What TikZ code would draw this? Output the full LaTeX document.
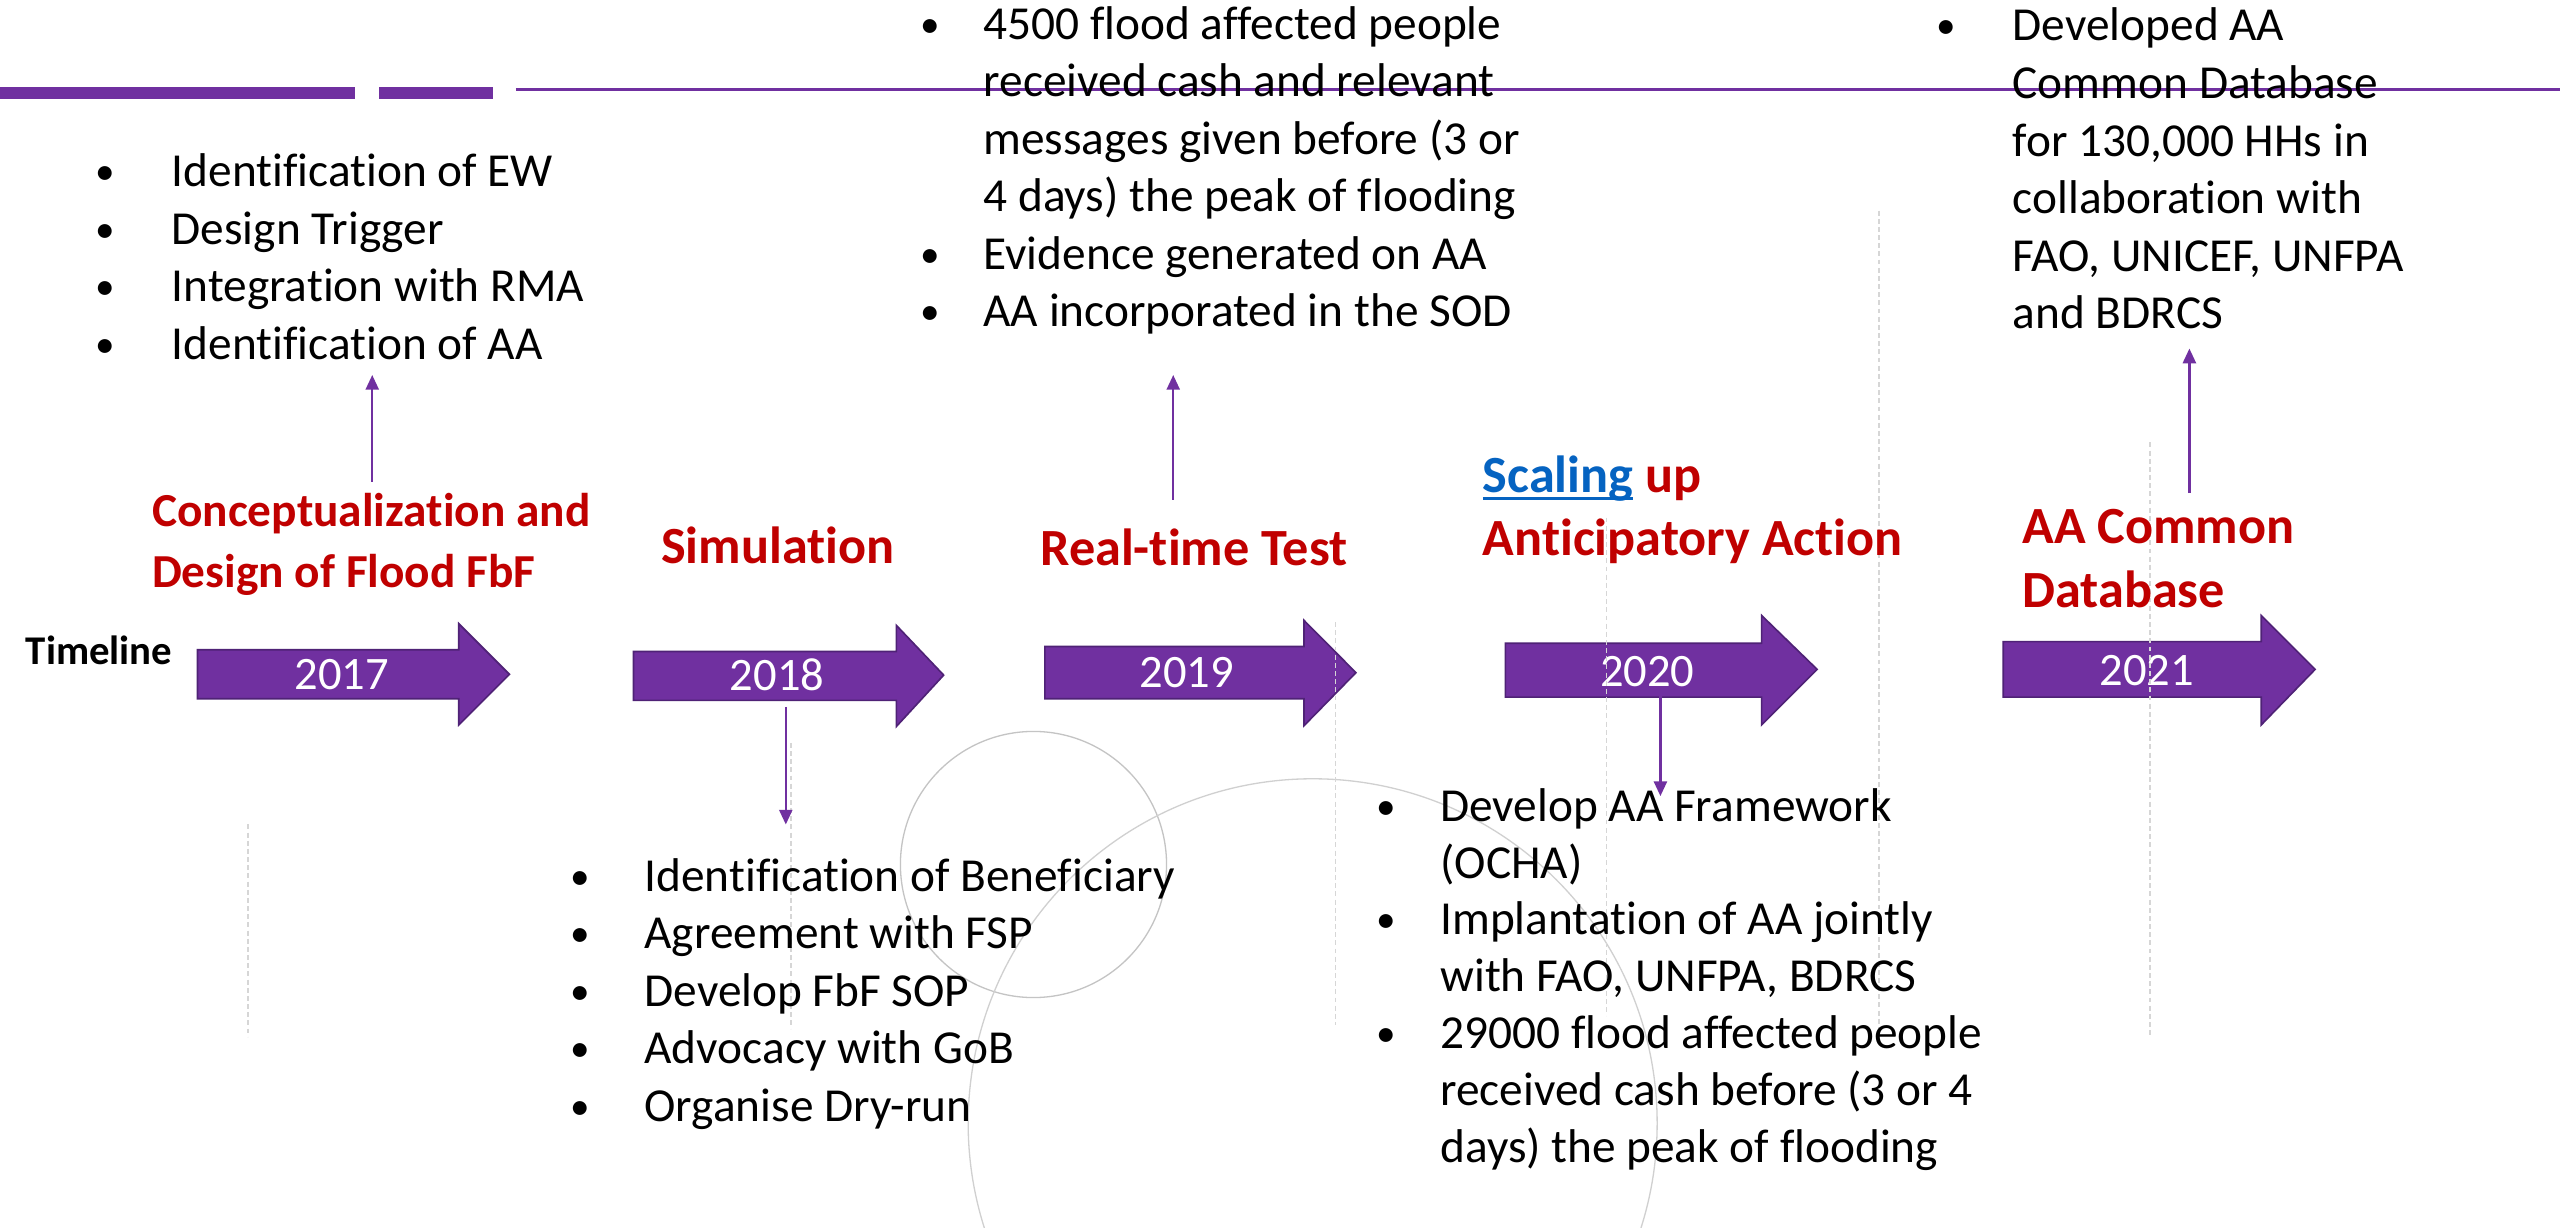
\documentclass[tikz,border=0pt]{standalone}
\usepackage{fontspec}
\setmainfont{Carlito}[Ligatures={NoCommon,NoRare,NoContextual}]
\usetikzlibrary{arrows.meta}

\definecolor{tlpurple}{HTML}{7030A0}
\definecolor{tledge}{HTML}{4F2276}
\definecolor{tlred}{HTML}{C00000}
\definecolor{tlblue}{HTML}{0563C1}
\definecolor{guide}{HTML}{D6D6D6}
\definecolor{ringgray}{HTML}{C4C4C4}

% stacked lines whose baseline is the first line's baseline
\newcommand\stack[2]{\vtop{\baselineskip=#1\lineskiplimit=-100pt\lineskip=0pt #2}}
% bullet glyph, slightly smaller than the running text
\newcommand\dotmark{\raisebox{1.2pt}{\fontsize{24}{24}\selectfont\textbullet}}
% bullet line and continuation line with hanging indent #1
\newcommand\bitem[2]{\hbox{\makebox[#1][l]{\makebox[0pt]{\dotmark}}#2}}
\newcommand\bcont[2]{\hbox{\hspace*{#1}#2}}
\newcommand\ultext[1]{\setbox0=\hbox{#1}\rlap{\rule[-4.6pt]{\wd0}{1.8pt}}\box0}

\tikzset{
  bodytext/.style={inner sep=0pt, anchor=base west, text=black,
    font=\fontsize{29}{35.2}\selectfont},
  phase/.style={inner sep=0pt, anchor=base west, text=tlred,
    font=\fontsize{32}{39}\selectfont\bfseries},
  yearlabel/.style={inner sep=0pt, anchor=base, text=white,
    font=\fontsize{28.5}{34}\selectfont},
  yearshape/.style={fill=tlpurple, draw=tledge, line width=1pt, line join=miter},
  link/.style={draw=tlpurple, line width=1.4pt,
    -{Triangle[length=9pt,width=8pt]}},
  guideline/.style={draw=guide, line width=0.9pt, dash pattern=on 3pt off 2pt},
  ring/.style={draw=ringgray, line width=0.8pt}
}

\begin{document}
\begin{tikzpicture}[x=1pt,y=-1pt]
\useasboundingbox (0,0) rectangle (1568,752);
\clip (0,0) rectangle (1568,752);
\fill[white] (0,0) rectangle (1568,752);

% decorative rings
\draw[ring] (633,529.5) circle[radius=81.5pt];
\draw[ring, draw=ringgray!80] (804,688) circle[radius=211pt];

% header rule
\fill[tlpurple] (0,53.1) rectangle (217.5,60.6);
\fill[tlpurple] (232,53.1) rectangle (302,60.6);
\draw[tlpurple, line width=1.3pt] (316,54.8) -- (1568,54.8);

% year arrows
\draw[yearshape] (121,398) -- (281,398) -- (281,382) -- (312,413) -- (281,444) -- (281,428) -- (121,428) -- cycle;
\draw[yearshape] (388,399) -- (549,399) -- (549,383) -- (578,413.5) -- (549,445) -- (549,429) -- (388,429) -- cycle;
\draw[yearshape] (640,396) -- (798.7,396) -- (798.7,380) -- (830.5,412) -- (798.7,444.5) -- (798.7,428) -- (640,428) -- cycle;
\draw[yearshape] (922,394) -- (1079,394) -- (1079,377) -- (1113,410) -- (1079,444) -- (1079,427) -- (922,427) -- cycle;
\draw[yearshape] (1227,393) -- (1385,393) -- (1385,377) -- (1418,410) -- (1385,444) -- (1385,427) -- (1227,427) -- cycle;

\node[yearlabel] (y2017) at (209.4,422.6) {2017};
\node[yearlabel] (y2018) at (476,423) {2018};
\node[yearlabel] (y2019) at (727,421) {2019};
\node[yearlabel] (y2020) at (1009,420.6) {2020};
\node[yearlabel] (y2021) at (1315,419.6) {2021};

% faint guides
\draw[guideline] (152,505) -- (152,635);
\draw[guideline] (484.5,455) -- (484.5,630);
\draw[guideline] (818,381) -- (818,628);
\draw[guideline] (984,317) -- (984,622);
\draw[guideline] (1151,129) -- (1151,630);
\draw[guideline] (1317,271) -- (1317,634);

% timeline caption
\node[inner sep=0pt, anchor=base west, font=\fontsize{25}{30}\selectfont\bfseries]
  (timeline) at (15.6,407) {Timeline};

% phase titles
\node[phase, font=\fontsize{29}{35}\selectfont\bfseries] (t2017) at (93,322.6)
  {\stack{37.4pt}{\hbox{Conceptualization and}\hbox{Design of Flood FbF}}};
\node[phase] (t2018) at (404.7,345) {Simulation};
\node[phase] (t2019) at (637,346.6) {Real-time Test};
\node[phase] (t2020) at (908,301.5)
  {\stack{38.5pt}{\hbox{\textcolor{tlblue}{\ultext{Scaling}} up}\hbox{Anticipatory Action}}};
\node[phase] (t2021) at (1238.5,333)
  {\stack{39pt}{\hbox{AA Common}\hbox{Database}}};

% activity lists
\node[bodytext] (l2017) at (64.5,114.3) {\stack{35.2pt}{%
  \bitem{40.5pt}{Identification of EW}%
  \bitem{40.5pt}{Design Trigger}%
  \bitem{40.5pt}{Integration with RMA}%
  \bitem{40.5pt}{Identification of AA}}};

\node[bodytext] (l2018) at (355,546) {\stack{35.2pt}{%
  \bitem{39.6pt}{Identification of Beneficiary}%
  \bitem{39.6pt}{Agreement with FSP}%
  \bitem{39.6pt}{Develop FbF SOP}%
  \bitem{39.6pt}{Advocacy with GoB}%
  \bitem{39.6pt}{Organise Dry-run}}};

\node[bodytext] (l2019) at (569.8,24) {\stack{35.2pt}{%
  \bitem{32.4pt}{4500 flood affected people}%
  \bcont{32.4pt}{received cash and relevant}%
  \bcont{32.4pt}{messages given before (3 or}%
  \bcont{32.4pt}{4 days) the peak of flooding}%
  \bitem{32.4pt}{Evidence generated on AA}%
  \bitem{32.4pt}{AA incorporated in the SOD}}};

\node[bodytext] (l2020) at (849,503) {\stack{34.8pt}{%
  \bitem{33pt}{Develop AA Framework}%
  \bcont{33pt}{(OCHA)}%
  \bitem{33pt}{Implantation of AA jointly}%
  \bcont{33pt}{with FAO, UNFPA, BDRCS}%
  \bitem{33pt}{29000 flood affected people}%
  \bcont{33pt}{received cash before (3 or 4}%
  \bcont{33pt}{days) the peak of flooding}}};

\node[bodytext] (l2021) at (1192,25) {\stack{35.3pt}{%
  \bitem{40.6pt}{Developed AA}%
  \bcont{40.6pt}{Common Database}%
  \bcont{40.6pt}{for 130,000 HHs in}%
  \bcont{40.6pt}{collaboration with}%
  \bcont{40.6pt}{FAO, UNICEF, UNFPA}%
  \bcont{40.6pt}{and BDRCS}}};

% connectors between phases and their activity lists
\coordinate (c17a) at (228,295);    \coordinate (c17b) at (228,229.7);
\coordinate (c18a) at (481.3,433);  \coordinate (c18b) at (481.3,505);
\coordinate (c19a) at (718.6,306);  \coordinate (c19b) at (718.6,229.7);
\coordinate (c20a) at (1017,426);   \coordinate (c20b) at (1017,487.6);
\coordinate (c21a) at (1341,302);   \coordinate (c21b) at (1341,213.5);
\draw[link] (c17a) -- (c17b);
\draw[link] (c18a) -- (c18b);
\draw[link] (c19a) -- (c19b);
\draw[link] (c20a) -- (c20b);
\draw[link] (c21a) -- (c21b);
\end{tikzpicture}
\end{document}
